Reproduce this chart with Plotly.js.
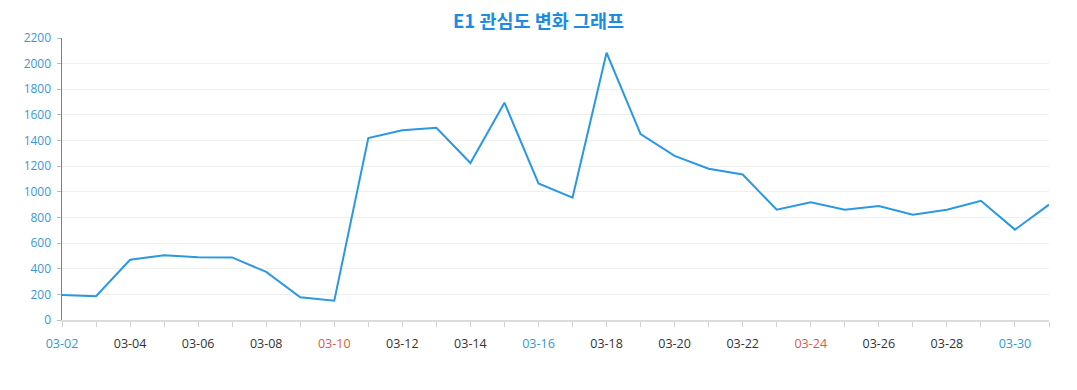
<!DOCTYPE html>
<html>
<head>
<meta charset="utf-8">
<script src="https://cdn.plot.ly/plotly-3.0.1.min.js"></script>
<style>html,body{margin:0;padding:0;background:#fff;}#chart{width:1077px;height:390px;}</style>
</head>
<body>
<div id="chart"></div>
<script>
const dates = ["03-02","03-03","03-04","03-05","03-06","03-07","03-08","03-09","03-10","03-11",
  "03-12","03-13","03-14","03-15","03-16","03-17","03-18","03-19","03-20","03-21",
  "03-22","03-23","03-24","03-25","03-26","03-27","03-28","03-29","03-30","03-31"];
const interest = [195,185,470,505,490,488,375,178,150,1420,
  1480,1500,1225,1695,1065,955,2085,1450,1280,1180,
  1135,860,918,860,890,822,860,930,705,900];
const blueLabels = ["03-02","03-16","03-30"];
const redLabels = ["03-10","03-24"];
const yTicks = [0,200,400,600,800,1000,1200,1400,1600,1800,2000,2200];

const tickText = dates.map((d,i) => {
  if (i % 2 !== 0) return "";
  if (blueLabels.includes(d)) return '<span style="color:#2f9ad6">' + d + '</span>';
  if (redLabels.includes(d)) return '<span style="color:#e0593f">' + d + '</span>';
  return d;
});

const trace = {
  x: dates, y: interest, type: "scatter", mode: "lines",
  line: {color: "#2a98e2", width: 2},
  hoverinfo: "x+y"
};

const layout = {
  width: 1077, height: 390,
  margin: {l: 62, r: 28, t: 38, b: 70},
  paper_bgcolor: "#fff", plot_bgcolor: "#fff",
  showlegend: false,
  title: {text: "<b>E1 관심도 변화 그래프</b>", x: 0.5, xanchor: "center", y: 0.945, yanchor: "middle",
    font: {family: "Noto Sans CJK KR, Noto Sans, sans-serif", size: 18.5, color: "#1a8de3"}},
  xaxis: {
    type: "category", range: [0, 29], tickmode: "array", tickvals: dates, ticktext: tickText,
    showgrid: false, zeroline: false, showline: true, linecolor: "#dcdcdc", linewidth: 1.5,
    ticks: "outside", ticklen: 5, tickcolor: "#d0d0d0", tickwidth: 1,
    ticklabelstandoff: 6,
    tickfont: {family: "Open Sans, sans-serif", size: 12.5, color: "#333"},
    fixedrange: true
  },
  yaxis: {
    range: [0, 2200], tickmode: "array", tickvals: yTicks,
    showgrid: true, gridcolor: "#efefef", gridwidth: 1, zeroline: false,
    showline: true, linecolor: "#2a98e2", linewidth: 1.5,
    ticks: "outside", ticklen: 4, tickcolor: "#bbb", tickwidth: 1,
    ticklabelstandoff: 3,
    tickfont: {family: "Open Sans, sans-serif", size: 12, color: "#3a98d4"},
    fixedrange: true
  }
};

Plotly.newPlot("chart", [trace], layout, {displayModeBar: false, staticPlot: true});
</script>
</body>
</html>
